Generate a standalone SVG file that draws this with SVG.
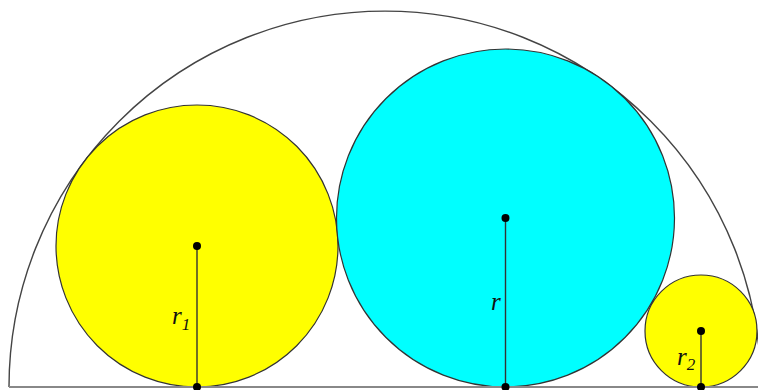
<svg xmlns="http://www.w3.org/2000/svg" width="758" height="390" viewBox="0 0 758 390">
<style>
.arc{fill:none;stroke:#444;stroke-width:1.4}
.base{stroke:#888;stroke-width:2}
.c{stroke:#333;stroke-width:1.2}
.rad{stroke:#333;stroke-width:1.4}
.dot{fill:#000}
.lbl{font-family:"Liberation Serif",serif;font-style:italic;font-size:25px;fill:#111}
.sub{font-size:17px}
</style>
<rect width="758" height="390" fill="#fff"/>
<g id="semicircle">
<path class="arc" d="M9 387 A376 376 0 0 1 761 387"/>
</g>
<g id="circle1">
<circle class="c" cx="197" cy="246" r="141" fill="#ffff00"/>
</g>
<g id="circle-r">
<circle class="c" cx="505.5" cy="218" r="169" fill="#00ffff"/>
</g>
<g id="circle2">
<circle class="c" cx="701" cy="331" r="56" fill="#ffff00"/>
</g>
<g id="connectors">
<line class="base" x1="9" y1="387" x2="758" y2="387"/>
<line class="rad" x1="197" y1="246" x2="197" y2="387"/>
<line class="rad" x1="505.5" y1="218" x2="505.5" y2="387"/>
<line class="rad" x1="701" y1="331" x2="701" y2="387"/>
<circle class="dot" cx="197" cy="246" r="4"/>
<circle class="dot" cx="197" cy="387" r="4"/>
<circle class="dot" cx="505.5" cy="218" r="4"/>
<circle class="dot" cx="505.5" cy="387" r="4"/>
<circle class="dot" cx="701" cy="331" r="4"/>
<circle class="dot" cx="701" cy="387" r="4"/>
</g>
<g id="labels">
<text class="lbl" x="172" y="324">r<tspan class="sub" dy="6">1</tspan></text>
<text class="lbl" x="491" y="310">r</text>
<text class="lbl" x="677" y="365">r<tspan class="sub" dy="5">2</tspan></text>
</g>
</svg>
